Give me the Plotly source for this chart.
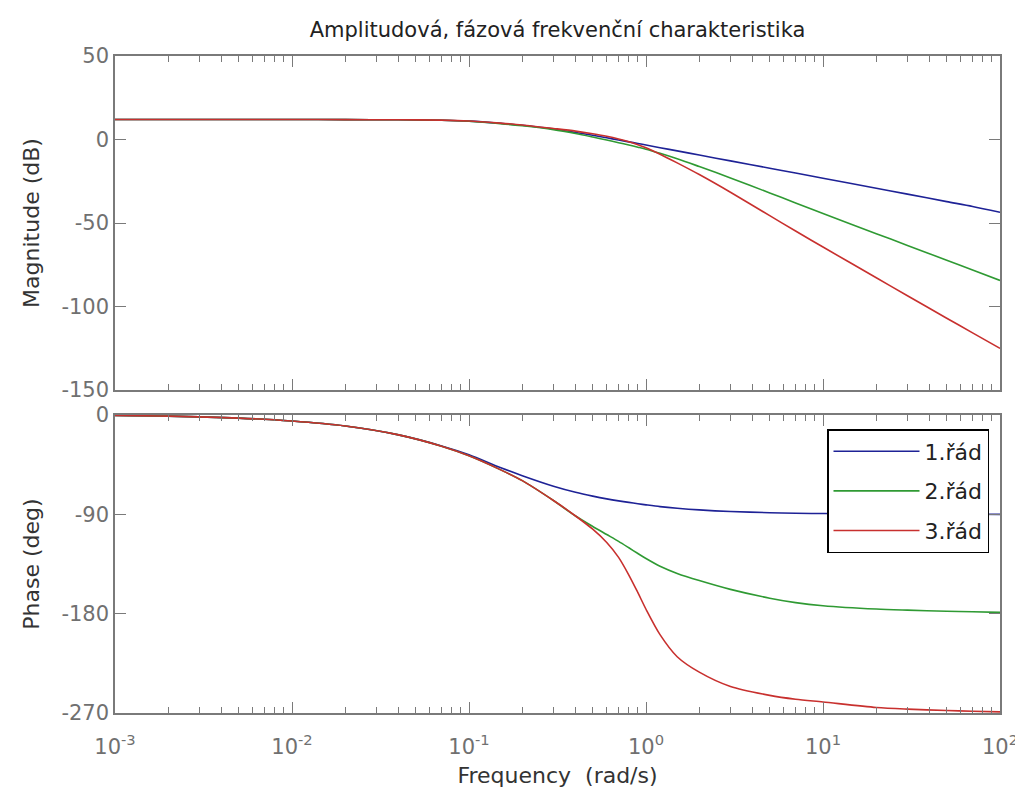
import plotly.graph_objects as go
from plotly.subplots import make_subplots

# ---- data ----
freq = [0.001, 0.002, 0.005, 0.01, 0.02, 0.04, 0.07, 0.1, 0.15, 0.2, 0.3, 0.4, 0.5, 0.6,
        0.7, 0.8, 0.9, 1.0, 1.2, 1.5, 2.0, 3.0, 5.0, 7.0, 10, 20, 30, 50, 70, 100]

mag_1 = [12.0, 12.0, 12.0, 12.0, 11.9, 11.8, 11.5, 11.0, 9.7, 8.5, 6.3, 4.2, 2.5, 1.0,
         -0.3, -1.4, -2.4, -3.3, -4.9, -6.8, -9.3, -12.8, -17.2, -20.1, -23.2, -29.2,
         -32.7, -37.2, -40.1, -43.6]
mag_2 = [12.0, 12.0, 12.0, 12.0, 11.9, 11.8, 11.5, 10.9, 9.5, 8.2, 5.9, 3.6, 1.5, -0.3,
         -1.9, -3.3, -4.6, -5.8, -8.3, -11.5, -16.2, -23.0, -32.0, -38.0, -44.3, -56.4,
         -63.4, -72.3, -78.2, -84.4]
mag_3 = [12.0, 12.0, 12.0, 12.0, 11.9, 11.8, 11.6, 11.1, 9.8, 8.7, 6.6, 5.0, 3.4, 1.9,
         0.3, -1.4, -3.2, -5.0, -8.8, -14.0, -21.0, -31.6, -45.6, -54.8, -64.4, -82.8,
         -93.6, -107.0, -115.8, -125.1]

phase_1 = [-0.5, -1.0, -2.8, -5.5, -10.0, -18.0, -28.0, -36.0, -47.5, -55.0, -64.5, -70.0,
           -73.5, -76.0, -77.8, -79.2, -80.4, -81.4, -83.0, -84.5, -86.0, -87.5, -88.5,
           -89.0, -89.3, -89.6, -89.7, -89.8, -89.9, -90.0]
phase_2 = [-0.5, -1.0, -2.8, -5.5, -10.0, -18.0, -28.3, -37.0, -49.5, -59.5, -77.5, -91.5,
           -101.0, -108.3, -114.5, -120.3, -125.5, -130.0, -137.0, -143.5, -150.0, -158.0,
           -166.0, -170.0, -172.8, -175.8, -176.8, -177.8, -178.3, -178.8]
phase_3 = [-0.5, -1.0, -2.8, -5.5, -10.0, -18.0, -28.3, -37.0, -49.5, -59.5, -77.5, -91.5,
           -103.5, -115.5, -129.0, -145.0, -161.0, -176.0, -199.0, -219.0, -233.0, -246.0,
           -254.0, -257.5, -260.0, -265.0, -266.5, -267.8, -268.4, -269.0]

series_names = ["1.řád", "2.řád", "3.řád"]
series_colors = ["#1e2296", "#2f9a33", "#c8302e"]

x_tickvals = [0.001, 0.01, 0.1, 1, 10, 100]
x_ticktext = ["10<sup>-3</sup>", "10<sup>-2</sup>", "10<sup>-1</sup>",
              "10<sup>0</sup>", "10<sup>1</sup>", "10<sup>2</sup>"]
x_minor = [m * 10 ** e for e in range(-3, 2) for m in range(2, 10)]
mag_ticks = [-150, -100, -50, 0, 50]
mag_ticktext = ["-150", "-100", "-50", "0", "50"]
phase_ticks = [-270, -180, -90, 0]
phase_ticktext = ["-270", "-180", "-90", "0"]

# ---- figure ----
fig = make_subplots(rows=2, cols=1, shared_xaxes=True)

mags = [mag_1, mag_2, mag_3]
phases = [phase_1, phase_2, phase_3]
for name, col, m, p in zip(series_names, series_colors, mags, phases):
    fig.add_trace(go.Scatter(x=freq, y=m, mode="lines", name=name, showlegend=False,
                             legendgroup=name,
                             line=dict(color=col, width=1.6, shape="spline", smoothing=0.8)),
                  row=1, col=1)
    fig.add_trace(go.Scatter(x=freq, y=p, mode="lines", name=name, legendgroup=name,
                             line=dict(color=col, width=1.6, shape="spline", smoothing=0.8)),
                  row=2, col=1)

FONT = "DejaVu Sans"
AXCOL = "#7a7a7a"
TICKFONT = dict(family=FONT, size=21, color="#707070")
LABELFONT = dict(family=FONT, size=22, color="#333333")

xcommon = dict(type="log", range=[-3, 2], showgrid=False, zeroline=False,
               showline=True, linecolor=AXCOL, linewidth=1.5, mirror="ticks",
               ticks="inside", ticklen=11, tickcolor=AXCOL, tickwidth=1,
               tickmode="array", tickvals=x_tickvals, ticktext=x_ticktext,
               minor=dict(ticks="inside", ticklen=6, tickcolor=AXCOL, tickwidth=1,
                          tickmode="array", tickvals=x_minor, showgrid=False),
               tickfont=TICKFONT, automargin=False)
ycommon = dict(showgrid=False, zeroline=False, showline=True, linecolor=AXCOL,
               linewidth=1.5, mirror="ticks", ticks="inside", ticklen=11,
               tickcolor=AXCOL, tickwidth=1, tickfont=TICKFONT, tickmode="array",
               automargin=False)

W, H = 1015, 795  # page body adds an 8px offset
PLOT_H = 657

fig.update_layout(
    xaxis=dict(xcommon, showticklabels=False),
    xaxis2=dict(xcommon, ticklabelstandoff=14,
                title=dict(text="Frequency\u00a0\u00a0(rad/s)", font=LABELFONT, standoff=10)),
    yaxis=dict(ycommon, domain=[(713 - 390) / PLOT_H, 1.0], range=[-150, 50],
               tickvals=mag_ticks, ticktext=mag_ticktext,
               title=dict(text="Magnitude (dB)", font=LABELFONT, standoff=16)),
    yaxis2=dict(ycommon, domain=[0.0, (713 - 415) / PLOT_H], range=[-270, 0],
                tickvals=phase_ticks, ticktext=phase_ticktext,
                title=dict(text="Phase (deg)", font=LABELFONT, standoff=16)),
)

fig.update_layout(
    width=W, height=H,
    margin=dict(l=107, r=23, t=48, b=90),
    paper_bgcolor="white", plot_bgcolor="white",
    title=dict(text="Amplitudová, fázová frekvenční charakteristika",
               font=dict(family=FONT, size=21, color="#222222"),
               x=0.5, xref="paper", xanchor="center", y=1 - 22 / H, yref="container",
               yanchor="middle"),
    legend=dict(x=(989 - 115) / 885, xanchor="right", y=(713 - 429) / PLOT_H, yanchor="top",
                bgcolor="white", bordercolor="black", borderwidth=1.5,
                font=dict(family=FONT, size=22, color="#222222"),
                itemwidth=86, tracegroupgap=8),
    showlegend=True,
)

fig.write_html("out.html")
